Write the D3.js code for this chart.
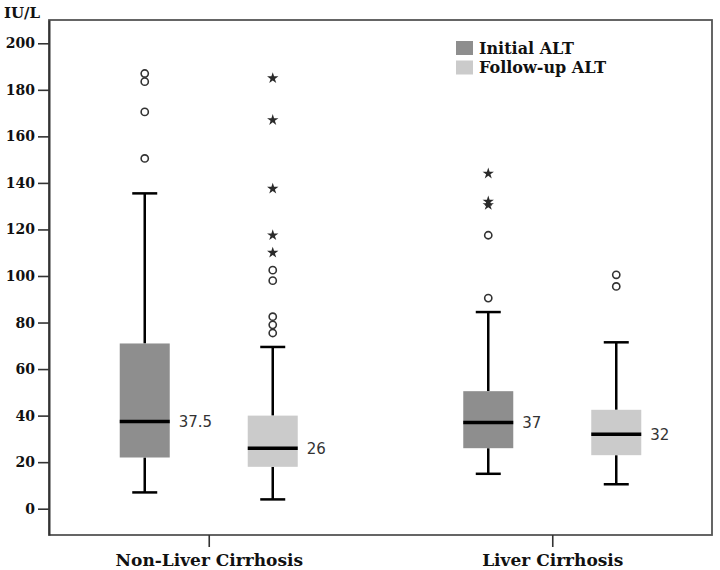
<!DOCTYPE html>
<html>
<head>
<meta charset="utf-8">
<script src="https://cdn.jsdelivr.net/npm/d3@7"></script>
<style>
  html, body { margin: 0; padding: 0; background: #fff; }
  svg { display: block; }
</style>
</head>
<body>
<svg id="chart" width="720" height="570"></svg>
<script>
// ---- data ----
const groups = ["Non-Liver Cirrhosis", "Liver Cirrhosis"];
const series = ["Initial ALT", "Follow-up ALT"];
const seriesColors = ["#8e8e8e", "#cbcbcb"];
const yTicks = [0, 20, 40, 60, 80, 100, 120, 140, 160, 180, 200];
const yUnit = "IU/L";

const initialLow = [7, 15];
const initialQ1 = [22, 26];
const initialMedian = [37.5, 37];
const initialQ3 = [71, 50.5];
const initialHigh = [135.5, 84.5];
const initialOutliers = [[187, 183.5, 170.5, 150.5], [117.5, 90.5]];
const initialExtremes = [[], [144, 132, 130.5]];

const followLow = [4, 10.5];
const followQ1 = [18, 23];
const followMedian = [26, 32];
const followQ3 = [40, 42.5];
const followHigh = [69.5, 71.5];
const followOutliers = [[102.5, 98, 82.5, 79, 75.5], [100.5, 95.5]];
const followExtremes = [[185, 167, 137.5, 117.5, 110], []];

const medianLabels = [["37.5", "26"], ["37", "32"]];

// ---- build records ----
const boxes = [];
groups.forEach((g, gi) => {
  boxes.push({group: g, series: series[0], si: 0, low: initialLow[gi], q1: initialQ1[gi], med: initialMedian[gi], q3: initialQ3[gi], high: initialHigh[gi], out: initialOutliers[gi], ext: initialExtremes[gi], label: medianLabels[gi][0]});
  boxes.push({group: g, series: series[1], si: 1, low: followLow[gi], q1: followQ1[gi], med: followMedian[gi], q3: followQ3[gi], high: followHigh[gi], out: followOutliers[gi], ext: followExtremes[gi], label: medianLabels[gi][1]});
});

// ---- layout ----
const L = 49, R = 712, T = 20, B = 535;
const svg = d3.select("#chart");

const x = d3.scalePoint().domain(groups).range([L, R]).padding(0.465);
const xs = d3.scaleBand().domain(series).range([-128, 128]);
const y = d3.scaleLinear().domain([-11.3, 210]).range([B, T]);
const color = d3.scaleOrdinal().domain(series).range(seriesColors);
const boxW = 50, capW = 25;
const cx = d => x(d.group) + xs(d.series) + xs.bandwidth() / 2;

const serif = "'DejaVu Serif', serif";

// frame
svg.append("rect")
  .attr("x", L).attr("y", T).attr("width", R - L).attr("height", B - T)
  .attr("fill", "none").attr("stroke", "#555").attr("stroke-width", 1.8);

// y axis
const yAxis = svg.append("g").attr("transform", `translate(${L},0)`)
  .call(d3.axisLeft(y).tickValues(yTicks).tickSize(11).tickSizeOuter(0).tickPadding(3));
yAxis.select(".domain").attr("stroke", "#333").attr("stroke-width", 2);
yAxis.selectAll(".tick line").attr("stroke", "#333").attr("stroke-width", 1.6);
yAxis.selectAll(".tick text").attr("fill", "#111").style("font-family", serif)
  .style("font-weight", "bold").style("font-size", "14px");

svg.append("text").attr("x", 4).attr("y", 18).text(yUnit)
  .attr("fill", "#111").style("font-family", serif).style("font-weight", "bold").style("font-size", "15px");

// x axis
const xAxis = svg.append("g").attr("transform", `translate(0,${B})`)
  .call(d3.axisBottom(x).tickSize(12).tickSizeOuter(0).tickPadding(7));
xAxis.select(".domain").remove();
xAxis.selectAll(".tick line").attr("stroke", "#333").attr("stroke-width", 1.6);
xAxis.selectAll(".tick text").attr("fill", "#111").style("font-family", serif)
  .style("font-weight", "bold").style("font-size", "17px");

// boxes
const bg = svg.append("g").selectAll("g").data(boxes).join("g");

bg.append("line").attr("x1", cx).attr("x2", cx)
  .attr("y1", d => y(d.high)).attr("y2", d => y(d.q3))
  .attr("stroke", "#000").attr("stroke-width", 2.5);
bg.append("line").attr("x1", cx).attr("x2", cx)
  .attr("y1", d => y(d.low)).attr("y2", d => y(d.q1))
  .attr("stroke", "#000").attr("stroke-width", 2.5);
bg.append("line").attr("x1", d => cx(d) - capW / 2).attr("x2", d => cx(d) + capW / 2)
  .attr("y1", d => y(d.high)).attr("y2", d => y(d.high))
  .attr("stroke", "#000").attr("stroke-width", 2.5);
bg.append("line").attr("x1", d => cx(d) - capW / 2).attr("x2", d => cx(d) + capW / 2)
  .attr("y1", d => y(d.low)).attr("y2", d => y(d.low))
  .attr("stroke", "#000").attr("stroke-width", 2.5);
bg.append("rect")
  .attr("x", d => cx(d) - boxW / 2).attr("width", boxW)
  .attr("y", d => y(d.q3)).attr("height", d => y(d.q1) - y(d.q3))
  .attr("fill", d => color(d.series));
bg.append("line").attr("x1", d => cx(d) - boxW / 2).attr("x2", d => cx(d) + boxW / 2)
  .attr("y1", d => y(d.med)).attr("y2", d => y(d.med))
  .attr("stroke", "#000").attr("stroke-width", 3.5);
bg.append("text")
  .attr("x", d => cx(d) + boxW / 2 + 9).attr("y", d => y(d.med)).attr("dy", "0.38em")
  .text(d => d.label).attr("fill", "#333")
  .style("font-family", "'DejaVu Sans', sans-serif").style("font-size", "15px");

// outliers (circles) and extremes (stars)
bg.each(function(d) {
  const g = d3.select(this);
  g.selectAll("circle.o").data(d.out).join("circle").attr("class", "o")
    .attr("cx", cx(d)).attr("cy", v => y(v)).attr("r", 3.6)
    .attr("fill", "#fff").attr("stroke", "#333").attr("stroke-width", 1.6);
  g.selectAll("path.e").data(d.ext).join("path").attr("class", "e")
    .attr("transform", v => `translate(${cx(d)},${y(v)})`)
    .attr("d", d3.symbol().type(d3.symbolStar).size(40))
    .attr("fill", "#2a2a2a");
});

// legend
const lg = svg.append("g").selectAll("g").data(series).join("g")
  .attr("transform", (d, i) => `translate(456,${41 + i * 19.5})`);
lg.append("rect").attr("width", 17).attr("height", 14).attr("fill", d => color(d));
lg.append("text").attr("x", 23).attr("y", 12.5).text(d => d)
  .attr("fill", "#111").style("font-family", serif).style("font-weight", "bold").style("font-size", "16px");
</script>
</body>
</html>
